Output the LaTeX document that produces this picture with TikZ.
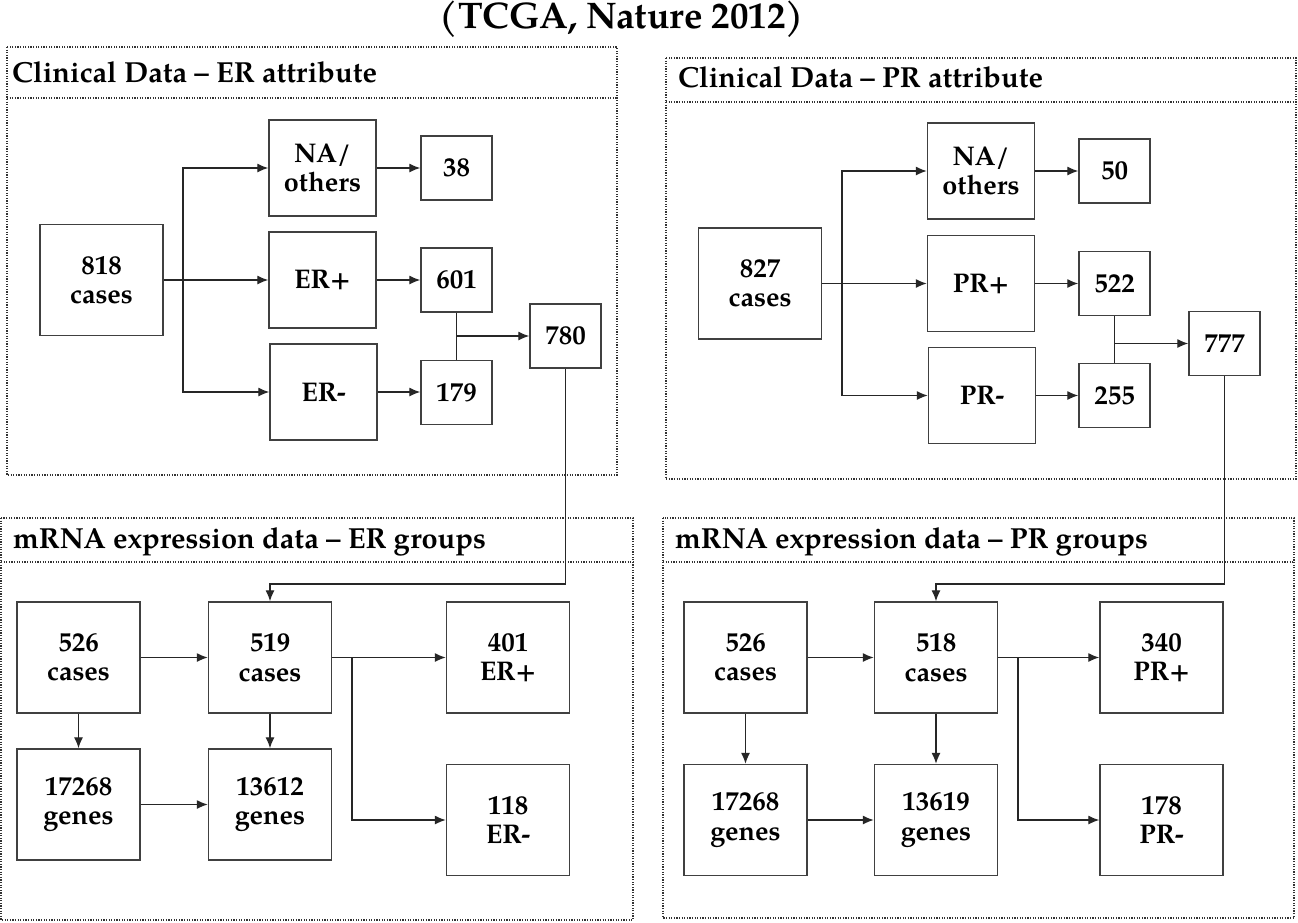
\documentclass[tikz,border=0pt]{standalone}
\usepackage{fontspec}
\setmainfont{TeX Gyre Pagella}
\usetikzlibrary{arrows.meta}
\newcommand{\nodefont}{\fontsize{27}{29.5}\selectfont\bfseries}
\newcommand{\headfont}{\fontsize{29}{32}\selectfont\bfseries}
\newcommand{\titlefont}{\fontsize{37}{40}\selectfont\bfseries}
\tikzset{
  bx/.style={draw=black!75, line width=1.4pt, font=\nodefont, align=center, inner sep=0pt, fill=white},
  big/.style={bx, minimum width=123pt, minimum height=111pt},
  mid/.style={bx, minimum width=107pt, minimum height=96pt},
  sml/.style={bx, minimum width=71pt, minimum height=64pt},
  ln/.style={draw=black!85, line width=1.3pt},
  arr/.style={ln, -{Latex[length=11pt,width=9pt]}},
  panel/.style={draw=black!80, line width=1.2pt, dash pattern=on 1.2pt off 1.4pt},
  head/.style={anchor=base west, font=\headfont, inner sep=0pt}
}
\begin{document}
\begin{tikzpicture}[x=1pt,y=-1pt]
\useasboundingbox[fill=white] (0,0) rectangle (1298,922);

% title
\node[anchor=base, font=\titlefont, inner sep=0pt] (title) at (622,28) {(TCGA, Nature 2012)};

% ---------- panels ----------
\draw[panel] (7,47) rectangle (617,475);
\draw[panel] (7,98) -- (617,98);
\node[head] (hTL) at (12,82) {Clinical Data – ER attribute};

\draw[panel] (666,58) rectangle (1296,479);
\draw[panel] (666,102) -- (1296,102);
\node[head] (hTR) at (678,87) {Clinical Data – PR attribute};

\draw[panel] (1,518) rectangle (633,920);
\draw[panel] (1,562) -- (633,562);
\node[head] (hBL) at (13,548) {mRNA expression data – ER groups};

\draw[panel] (663,518) rectangle (1294,918);
\draw[panel] (663,562) -- (1294,562);
\node[head] (hBR) at (675,548) {mRNA expression data – PR groups};

% ---------- top-left: ER attribute ----------
\node[big] (n818) at (101.5,280) {818\\cases};
\node[mid] (naE) at (322.5,168) {NA/\\others};
\node[mid] (erp) at (322.5,280) {ER+};
\node[mid] (erm) at (323.5,392) {ER-};
\node[sml] (e38) at (456.5,168) {38};
\node[sml] (e601) at (456.5,280) {601};
\node[sml] (e179) at (456.5,392.5) {179};
\node[sml] (e780) at (565.5,336) {780};

\coordinate (bE) at (183,280);
\draw[ln] (n818.east) -- (bE);
\draw[arr] (bE) |- (naE.west);
\draw[arr] (bE) -- (erp.west);
\draw[arr] (bE) |- (erm.west);
\draw[arr] (naE.east) -- (naE.east -| e38.west);
\draw[arr] (erp.east) -- (erp.east -| e601.west);
\draw[arr] (erm.east) -- (erm.east -| e179.west);
\draw[ln] (e601.south) -- (e179.north);
\draw[arr] (e601.south |- e780.west) -- (e780.west);

% ---------- top-right: PR attribute ----------
\node[big] (n827) at (760,283.5) {827\\cases};
\node[mid] (naP) at (981,171) {NA/\\others};
\node[mid] (prp) at (981,283.5) {PR+};
\node[mid] (prm) at (982,395.5) {PR-};
\node[sml] (p50) at (1114.5,171) {50};
\node[sml] (p522) at (1114.5,283.5) {522};
\node[sml] (p255) at (1114.5,395.5) {255};
\node[sml] (p777) at (1224.5,343.5) {777};

\coordinate (bP) at (842,283.5);
\draw[ln] (n827.east) -- (bP);
\draw[arr] (bP) |- (naP.west);
\draw[arr] (bP) -- (prp.west);
\draw[arr] (bP) |- (prm.west);
\draw[arr] (naP.east) -- (naP.east -| p50.west);
\draw[arr] (prp.east) -- (prp.east -| p522.west);
\draw[arr] (prm.east) -- (prm.east -| p255.west);
\draw[ln] (p522.south) -- (p255.north);
\draw[arr] (p522.south |- p777.west) -- (p777.west);

% ---------- bottom-left: ER groups ----------
\node[big] (c526) at (78.5,657.5) {526\\cases};
\node[big] (c519) at (270,657.5) {519\\cases};
\node[big] (g401) at (508,657.5) {401\\ER+};
\node[big] (g17268) at (78.5,804.5) {17268\\genes};
\node[big] (g13612) at (270,804.5) {13612\\genes};
\node[big] (g118) at (508,820) {118\\ER-};

\coordinate (kE) at (565.5,584);
\draw[arr] (e780.south) -- (kE) -| (c519.north);
\draw[arr] (c526.east) -- (c519.west);
\draw[arr] (c526.south) -- (g17268.north);
\draw[arr] (c519.south) -- (g13612.north);
\draw[arr] (g17268.east) -- (g13612.west);
\coordinate (sE) at (352,657.5);
\draw[ln] (c519.east) -- (sE);
\draw[arr] (sE) -- (g401.west);
\draw[arr] (sE) |- (g118.west);

% ---------- bottom-right: PR groups ----------
\node[big] (c526b) at (745.5,657.5) {526\\cases};
\node[big] (c518) at (936,657.5) {518\\cases};
\node[big] (g340) at (1161.5,657.5) {340\\PR+};
\node[big] (g17268b) at (745.5,820) {17268\\genes};
\node[big] (g13619) at (936,820) {13619\\genes};
\node[big] (g178) at (1161.5,820) {178\\PR-};

\coordinate (kP) at (1224.5,584);
\draw[arr] (p777.south) -- (kP) -| (c518.north);
\draw[arr] (c526b.east) -- (c518.west);
\draw[arr] (c526b.south) -- (g17268b.north);
\draw[arr] (c518.south) -- (g13619.north);
\draw[arr] (g17268b.east) -- (g13619.west);
\coordinate (sP) at (1018,657.5);
\draw[ln] (c518.east) -- (sP);
\draw[arr] (sP) -- (g340.west);
\draw[arr] (sP) |- (g178.west);
\end{tikzpicture}
\end{document}
